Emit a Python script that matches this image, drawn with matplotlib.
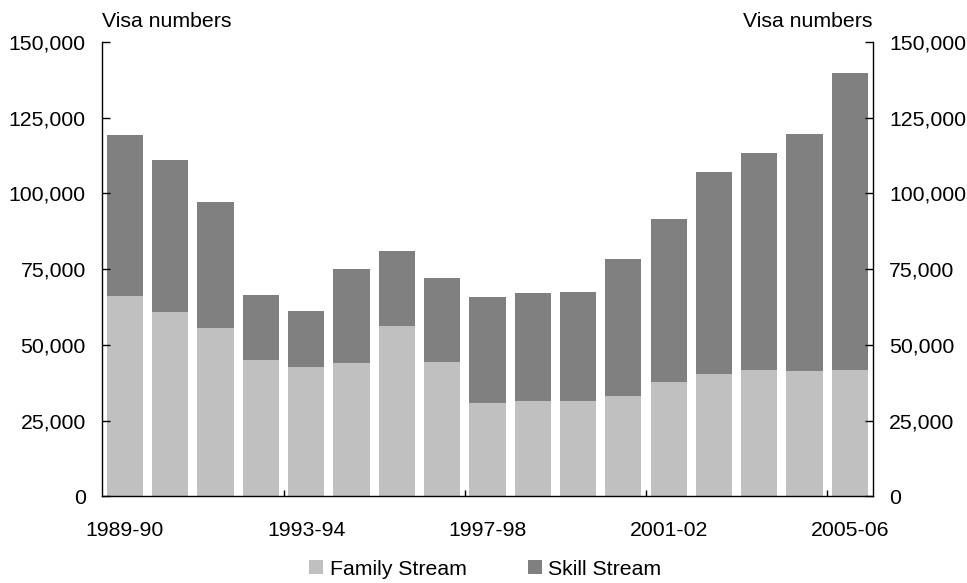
import matplotlib
matplotlib.use("Agg")
import matplotlib.pyplot as plt
from matplotlib.ticker import FuncFormatter, FixedLocator
from matplotlib.patches import Patch

plt.rcParams['font.family'] = ['Liberation Sans', 'DejaVu Sans']

years = ["1989-90", "1990-91", "1991-92", "1992-93", "1993-94", "1994-95",
         "1995-96", "1996-97", "1997-98", "1998-99", "1999-00", "2000-01",
         "2001-02", "2002-03", "2003-04", "2004-05", "2005-06"]
family = [66300, 61000, 55500, 44900, 42800, 44200, 56400, 44300, 31000,
          31600, 31600, 33100, 37700, 40400, 41800, 41400, 41600]
total = [119400, 111200, 97300, 66500, 61300, 75000, 80900, 72000, 65900,
         67100, 67400, 78300, 91600, 107000, 113500, 119700, 139700]
skill = [t - f for t, f in zip(total, family)]

family_color = "#c0c0c0"
skill_color = "#808080"
fs = 15.3

fig = plt.figure(figsize=(9.67, 5.83), dpi=100)
ax = fig.add_axes([0.1058, 0.1484, 0.7965, 0.7796])

x = list(range(len(years)))
ax.bar(x, family, width=0.8, color=family_color, edgecolor="none")
ax.bar(x, skill, width=0.8, bottom=family, color=skill_color, edgecolor="none")

ax.set_xlim(-0.5, len(years) - 0.5)
ax.set_ylim(0, 150000)

ax.yaxis.set_major_locator(FixedLocator(range(0, 150001, 25000)))
ax.yaxis.set_major_formatter(FuncFormatter(lambda v, p: f"{int(v):,}"))
ax.tick_params(axis="y", which="both", direction="in", length=6, width=1,
               left=True, right=True, labelleft=True, labelright=True,
               labelsize=fs, pad=12, colors="black")

# labels every fourth year, tick marks on the boundaries between groups
label_pos = x[::4]
ax.set_xticks(label_pos)
ax.set_xticklabels(years[::4])
ax.tick_params(axis="x", which="major", length=0, labelsize=fs, pad=18)
ax.set_xticks([3.5, 7.5, 11.5, 15.5], minor=True)
ax.tick_params(axis="x", which="minor", direction="in", length=4, width=1)

ax.spines["top"].set_visible(False)
for s in ("left", "right", "bottom"):
    ax.spines[s].set_linewidth(1)
    ax.spines[s].set_color("black")

fig.text(0.1058, 0.963, "Visa numbers", ha="left", va="center", fontsize=fs)
fig.text(0.9023, 0.963, "Visa numbers", ha="right", va="center", fontsize=fs)

handles = [Patch(facecolor=family_color, edgecolor="none", label="Family Stream"),
           Patch(facecolor=skill_color, edgecolor="none", label="Skill Stream")]
fig.legend(handles=handles, loc="center", bbox_to_anchor=(0.502, 0.024),
           ncol=2, frameon=False, fontsize=fs, handlelength=0.65,
           handleheight=0.65, handletextpad=0.3, columnspacing=2.9)

fig.savefig("out.png", dpi=100)
